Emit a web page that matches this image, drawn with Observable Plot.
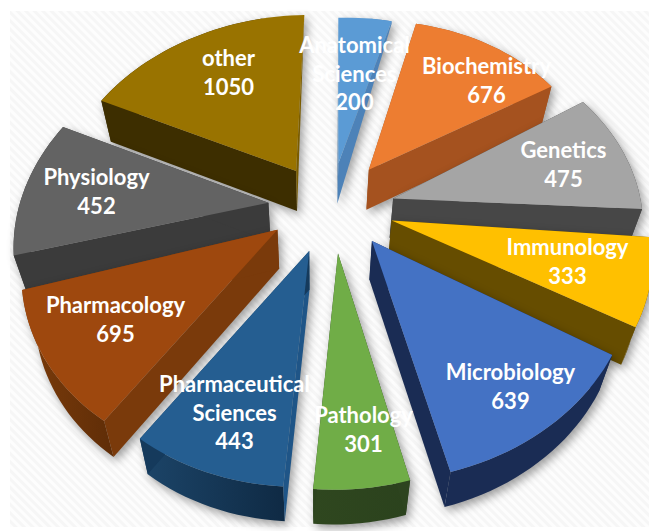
<!doctype html><html><head><meta charset="utf-8">
<script src="https://cdn.jsdelivr.net/npm/d3@7"></script>
<script src="https://cdn.jsdelivr.net/npm/@observablehq/plot@0.6"></script>
<style>
html,body{margin:0;background:#fff}
svg{display:block}
g[aria-label="line"]{filter:drop-shadow(3px 4px 5px rgba(0,0,0,.38))}
</style></head><body>
<div id="chart"></div>
<script>
// ---- data
const subjects=["Anatomical\nSciences","Biochemistry","Genetics","Immunology","Microbiology","Pathology","Pharmaceutical\nSciences","Pharmacology","Physiology","other"];
const counts=[200,676,475,333,639,301,443,695,452,1050];
// ---- colours
const topFill=["#5B9BD5","#ED7D31","#A5A5A5","#FFC000","#4472C4","#70AD47","#255E91","#9E480E","#636363","#997300"];
const startSideFill=["#3f6f9e","#a5521f","#474747","#664d00","#1a2c54","#2d441f","#1f5587","#7a3a0b","#3b3b3b","#3d2e00"];
const endSideFill=["#4d82b8","#a5521f","#474747","#664d00","#1a2c54","#2d441f","#153a5c","#7a3a0b","#3b3b3b","#7a5c00"];
const arcSideFill=["#4d82b8","#a5521f","#474747","#664d00","#1a2c54","url(#pathArc)","url(#psArc)","url(#phArc)","#3b3b3b","#3d2e00"];
// ---- 3-D layout: plane projection, per-slice explosion [u, v, radius, start-angle shift, end-angle shift], draw order, labels
const projection=[234.96,-66.26,323,3.87,156.81,205.84,-.0176,-.1464];
const explosion=[[0.045,-0.239,0.946,-4.0,-1.9],[0.177,-0.208,0.958,-2.9,-3.5],[0.286,-0.054,1.012,-5.6,-1.5],[0.284,0.063,1.039,0.0,1.8],[0.209,0.172,1.026,3.1,3.2],[0.077,0.240,0.995,2.9,1.4],[-0.039,0.232,0.999,0.6,2.0],[-0.178,0.131,1.034,1.0,-6.5],[-0.231,-0.010,1.051,-4.8,4.2],[-0.132,-0.189,1.012,4.6,-3.2]];
const drawOrder=[9,0,1,2,3,8,7,6,5,4];
const labelX=[354,486,563,567,510,363,234,115,96,228];
const labelY=[72,79,163,260,385,428,411,318,190,71];
const panel=[{x1:10,x2:649,y1:11,y2:527}];

const total=d3.sum(counts);
const ends=d3.cumsum(counts);
function project(u,v){const p=projection,w=p[6]*u+p[7]*v+1;return [(p[0]*u+p[1]*v+p[2])/w,(p[3]*u+p[4]*v+p[5])/w];}
function extrude([x,y]){const t=Math.max(0,Math.min(1,(y-18)/30));return [x-t*(x-315)*.045,y+t*(41-.016*(y-100))];}
function wedgeRows(i){
  const [ex,ey,r,d0,d1]=explosion[i];
  const a0=(ends[i]-counts[i])/total*360+d0,a1=ends[i]/total*360+d1;
  const apex=project(ex,ey);
  const n=Math.ceil(Math.abs(a1-a0)/2);
  const arc=d3.range(n+1).map(k=>{const a=(a0+(a1-a0)*k/n)*Math.PI/180;return project(ex+r*Math.sin(a),ey-r*Math.cos(a));});
  const face=(id,fill,ring)=>ring.map(([x,y])=>({id:`${i}-${id}`,fill,x,y}));
  const first=arc[0],last=arc[n];
  return [
    ...face("arc",arcSideFill[i],[...arc,...arc.map(extrude).reverse()]),
    ...face("start",startSideFill[i],[apex,first,extrude(first),extrude(apex)]),
    ...face("end",endSideFill[i],[apex,last,extrude(last),extrude(apex)]),
    ...face("top",topFill[i],[apex,...arc])
  ];
}
const labels=subjects.map((s,i)=>({text:`${s}\n${counts[i]}`,x:labelX[i],y:labelY[i]}));

const plot=Plot.plot({
  width:649,height:531,margin:0,
  style:{background:"#fff"},
  x:{axis:null,domain:[0,649],range:[0,649]},
  y:{axis:null,domain:[0,531],range:[0,531]},
  color:{type:"identity"},
  marks:[
    Plot.rect(panel,{x1:"x1",x2:"x2",y1:"y1",y2:"y2",fill:"url(#hatch)"}),
    ...drawOrder.map(i=>Plot.line(wedgeRows(i),{x:"x",y:"y",z:"id",fill:"fill",stroke:"none"})),
    Plot.text(labels,{x:"x",y:"y",text:"text",fill:"#fff",fontSize:22,fontWeight:700,fontFamily:"Lato",lineHeight:1.3,textAnchor:"middle"})
  ]
});
const defs=document.createElementNS("http://www.w3.org/2000/svg","defs");
defs.innerHTML=`
<pattern id="hatch" width="6" height="6" patternUnits="userSpaceOnUse" patternTransform="rotate(45)">
  <rect width="6" height="6" fill="#fdfdfd"/><rect width="6" height="3" fill="#f6f6f6"/>
</pattern>
<linearGradient id="psArc"><stop offset="0" stop-color="#1c4569"/><stop offset="1" stop-color="#0f2a44"/></linearGradient>
<linearGradient id="phArc"><stop offset="0" stop-color="#7c3c0b"/><stop offset="1" stop-color="#5f2d07"/></linearGradient>
<linearGradient id="pathArc"><stop offset="0" stop-color="#2f471f"/><stop offset="1" stop-color="#2b421d"/></linearGradient>`;
plot.insertBefore(defs,plot.firstChild);
document.getElementById("chart").append(plot);
</script></body></html>
